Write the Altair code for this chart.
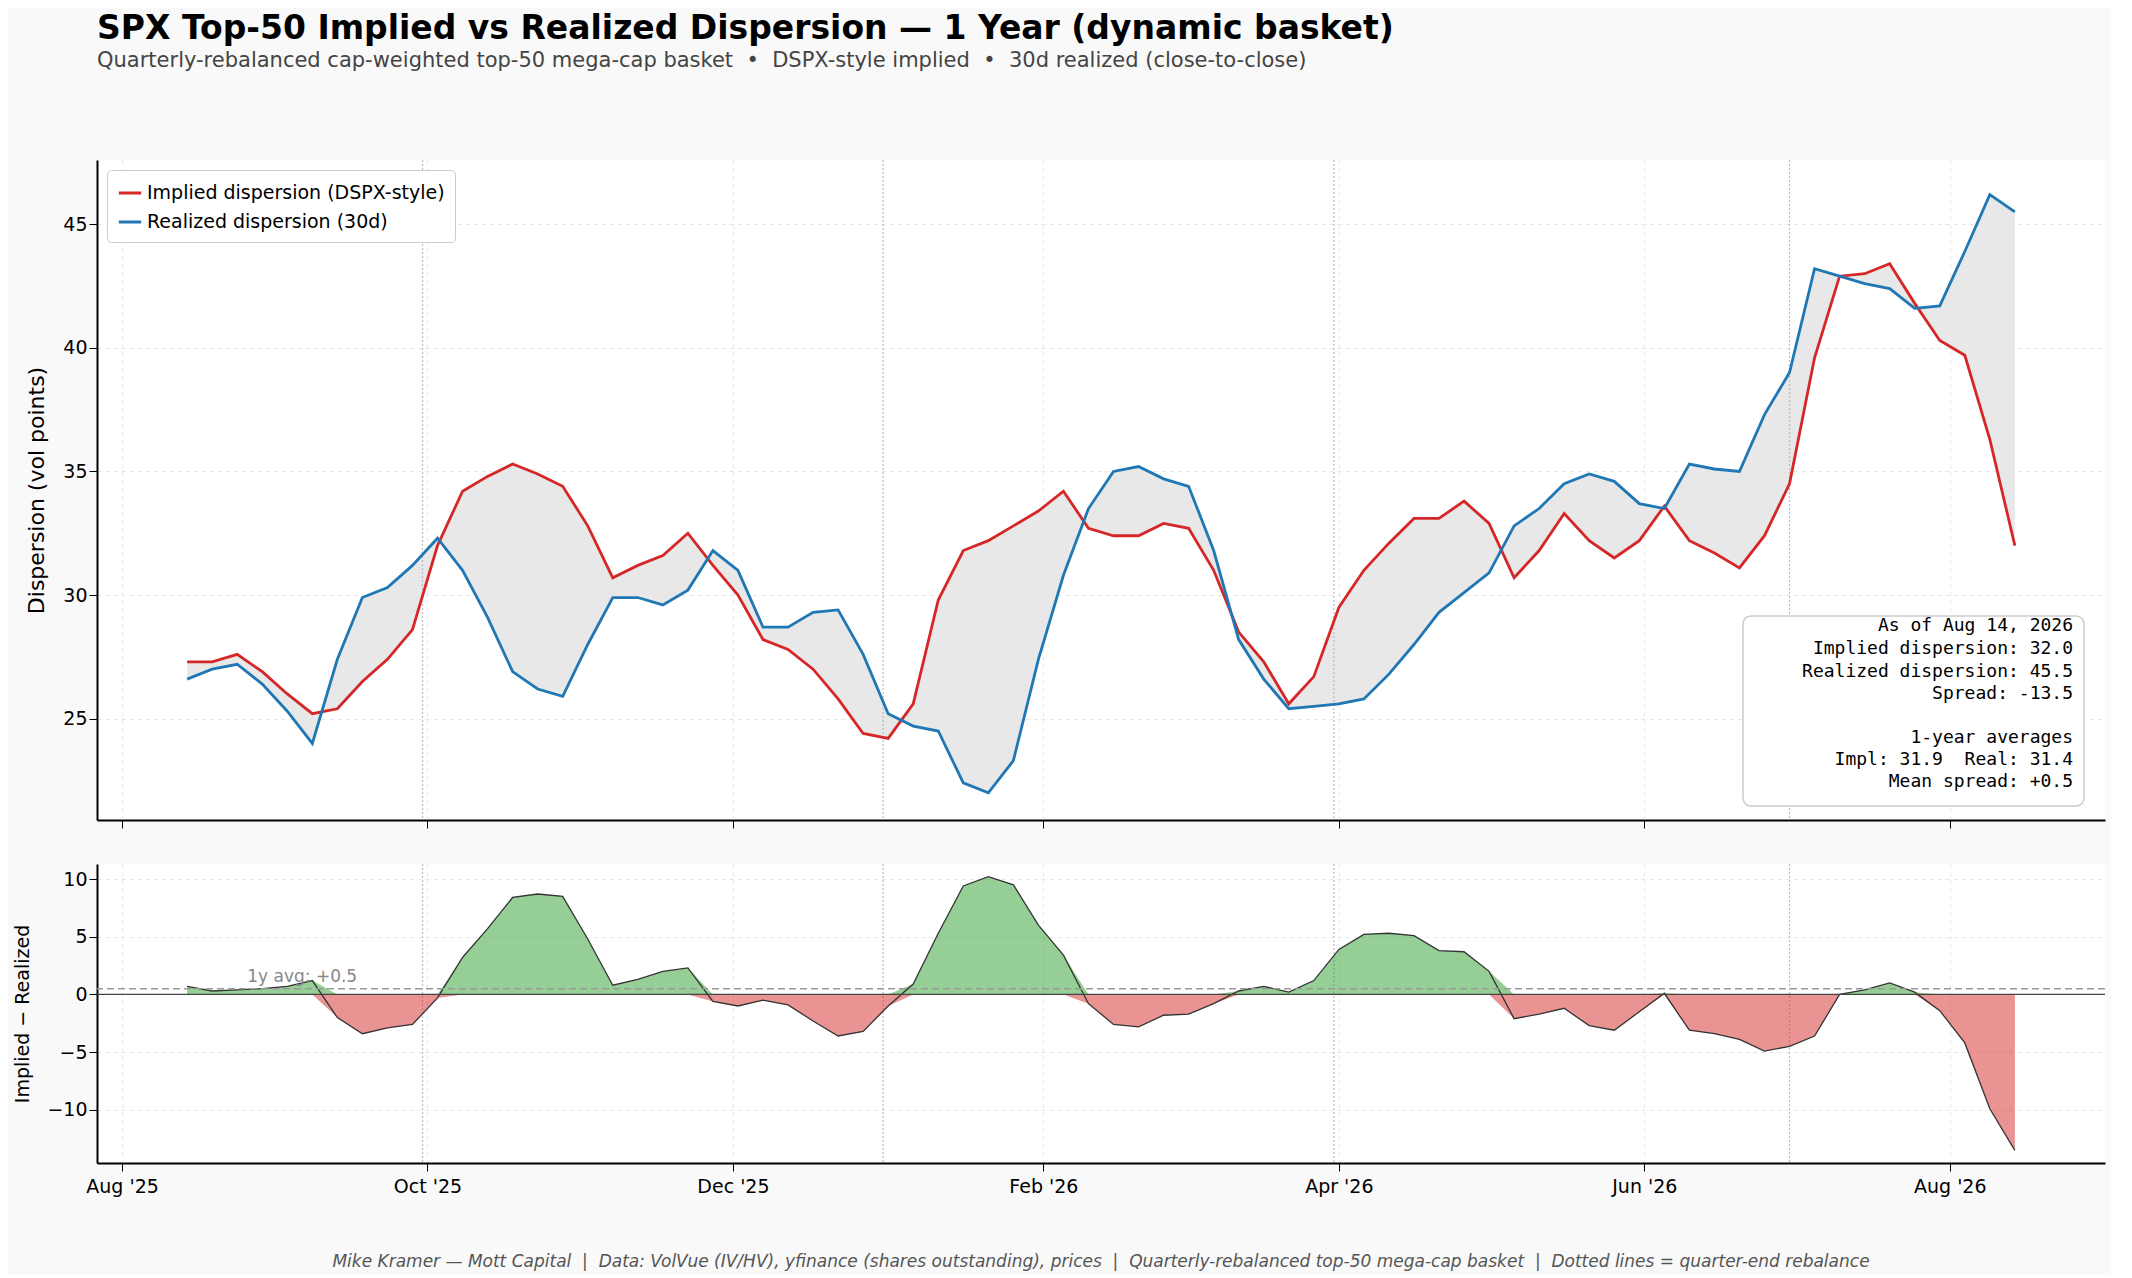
import altair as alt
import pandas as pd

# Readings every 5 days, Aug 14 2025 -> Aug 14 2026
implied = [27.3, 27.3, 27.6, 26.9, 26.0, 25.2, 25.4, 26.5, 27.4, 28.6,
           32.0, 34.2, 34.8, 35.3, 34.9, 34.4, 32.8, 30.7, 31.2, 31.6,
           32.5, 31.2, 30.0, 28.2, 27.8, 27.0, 25.8, 24.4, 24.2, 25.6,
           29.8, 31.8, 32.2, 32.8, 33.4, 34.2, 32.7, 32.4, 32.4, 32.9,
           32.7, 31.0, 28.5, 27.3, 25.6, 26.7, 29.5, 31.0, 32.1, 33.1,
           33.1, 33.8, 32.9, 30.7, 31.8, 33.3, 32.2, 31.5, 32.2, 33.6,
           32.2, 31.7, 31.1, 32.4, 34.5, 39.6, 42.9, 43.0, 43.4, 41.8,
           40.3, 39.7, 36.3, 32.0]
realized = [26.6, 27.0, 27.2, 26.4, 25.3, 24.0, 27.4, 29.9, 30.3, 31.2,
            32.3, 31.0, 29.1, 26.9, 26.2, 25.9, 28.0, 29.9, 29.9, 29.6,
            30.2, 31.8, 31.0, 28.7, 28.7, 29.3, 29.4, 27.6, 25.2, 24.7,
            24.5, 22.4, 22.0, 23.3, 27.4, 30.8, 33.5, 35.0, 35.2, 34.7,
            34.4, 31.8, 28.2, 26.6, 25.4, 25.5, 25.6, 25.8, 26.8, 28.0,
            29.3, 30.1, 30.9, 32.8, 33.5, 34.5, 34.9, 34.6, 33.7, 33.5,
            35.3, 35.1, 35.0, 37.3, 39.0, 43.2, 42.9, 42.6, 42.4, 41.6,
            41.7, 43.9, 46.2, 45.5]
dates = pd.date_range("2025-08-14", periods=len(implied), freq="5D")

rebalance_dates = ["2025-09-30", "2025-12-31", "2026-03-31", "2026-06-30"]
tick_dates = ["2025-08-01", "2025-10-01", "2025-12-01", "2026-02-01",
              "2026-04-01", "2026-06-01", "2026-08-01"]
mean_spread = 0.5

IMPL_LABEL = "Implied dispersion (DSPX-style)"
REAL_LABEL = "Realized dispersion (30d)"
SP = "\u00a0"  # keep double spaces in svg text

df = pd.DataFrame({"date": dates, "implied": implied, "realized": realized})
reb_df = pd.DataFrame({"date": pd.to_datetime(rebalance_dates)})

W = 2008
x_scale = alt.Scale(domain=["2025-07-27", "2026-09-01"])
tick_vals = [alt.DateTime(year=int(d[:4]), month=int(d[5:7]), date=1) for d in tick_dates]
view_bg = alt.ViewBackground(fill="white", strokeWidth=0)

def x_enc(labels=True):
    return alt.X("date:T", scale=x_scale, title=None,
                 axis=alt.Axis(values=tick_vals, format="%b '%y", labels=labels,
                               labelFontSize=19, tickSize=8, tickColor="black",
                               domainColor="black", domainWidth=2,
                               gridDash=[4, 4], gridColor="#e6e6e6", labelPadding=6))

base = alt.Chart(df)

# top panel
band = base.mark_area(color="#e8e8e8").encode(
    x=x_enc(False),
    y=alt.Y("implied:Q"),
    y2="realized:Q",
)
reb_top = alt.Chart(reb_df).mark_rule(color="#bbbbbb", strokeDash=[2, 2], strokeWidth=1.2).encode(x="date:T")
lines = base.transform_fold(["implied", "realized"], as_=["series", "value"]).transform_calculate(
    label=f"datum.series == 'implied' ? '{IMPL_LABEL}' : '{REAL_LABEL}'"
).mark_line(strokeWidth=2.8).encode(
    x=x_enc(False),
    y=alt.Y("value:Q", scale=alt.Scale(domain=[20.9, 47.6], nice=False, zero=False),
            title="Dispersion (vol points)",
            axis=alt.Axis(values=[25, 30, 35, 40, 45], labelFontSize=19, titleFontSize=22,
                          titleFontWeight="normal", tickSize=8, tickColor="black",
                          domainColor="black", domainWidth=2, gridDash=[4, 4],
                          gridColor="#e6e6e6", titlePadding=14)),
    color=alt.Color("label:N",
                    scale=alt.Scale(domain=[IMPL_LABEL, REAL_LABEL], range=["#d62728", "#1f77b4"]),
                    legend=alt.Legend(title=None, orient="top-left", labelFontSize=19, labelLimit=600,
                                      symbolType="stroke", symbolStrokeWidth=3, symbolSize=500,
                                      strokeColor="#cccccc", fillColor="white", padding=10,
                                      cornerRadius=4, offset=10, rowPadding=6)),
)

box = alt.Chart(df).mark_rect(fill="white", stroke="#cccccc", strokeWidth=1.5, cornerRadius=8).encode(
    x=alt.value(1646), x2=alt.value(1987), y=alt.value(456), y2=alt.value(646)
).transform_aggregate(n="count()")
info_lines = ["As of Aug 14, 2026", "Implied dispersion: 32.0", "Realized dispersion: 45.5",
              "Spread: -13.5", "", "1-year averages", f"Impl: 31.9{SP}{SP}Real: 31.4", "Mean spread: +0.5"]
info_y = [471, 494, 517, 539, 561, 583, 605, 627]
info_df = pd.DataFrame({"t": info_lines, "py": info_y})
info = alt.Chart(info_df).mark_text(align="right", baseline="alphabetic", font="DejaVu Sans Mono",
                                   fontSize=18, color="black").encode(
    x=alt.value(1976), y=alt.Y("py:Q", scale=None), text="t:N")

top = alt.layer(band, reb_top, lines, box, info).properties(width=W, height=660, view=view_bg)

# bottom panel
spread = base.transform_calculate(
    diff="datum.implied - datum.realized",
    pos="max(datum.implied - datum.realized, 0)",
    neg="min(datum.implied - datum.realized, 0)",
)
ydiff = alt.Y("pos:Q", scale=alt.Scale(domain=[-14.6, 11.3], nice=False), title="Implied − Realized",
              axis=alt.Axis(values=[-10, -5, 0, 5, 10], labelFontSize=19, titleFontSize=19,
                            titleFontWeight="normal", tickSize=8, tickColor="black",
                            domainColor="black", domainWidth=2, gridDash=[4, 4],
                            gridColor="#e6e6e6", titlePadding=14))
pos_area = spread.mark_area(color="#2ca02c", opacity=0.5).encode(x=x_enc(), y=ydiff, y2=alt.datum(0))
neg_area = spread.mark_area(color="#d62728", opacity=0.5).encode(x=x_enc(), y="neg:Q", y2=alt.datum(0))
diff_line = spread.mark_line(color="#333333", strokeWidth=1.3).encode(x=x_enc(), y="diff:Q")
reb_bot = alt.Chart(reb_df).mark_rule(color="#bbbbbb", strokeDash=[2, 2], strokeWidth=1.2).encode(x="date:T")
zero = alt.Chart(pd.DataFrame({"v": [0]})).mark_rule(color="#444444", strokeWidth=1.2).encode(y="v:Q")
avg = alt.Chart(pd.DataFrame({"v": [mean_spread]})).mark_rule(
    color="#999999", strokeDash=[7, 4], strokeWidth=1.5).encode(y="v:Q")
avg_txt = alt.Chart(pd.DataFrame({"d": ["2025-08-26"], "v": [mean_spread], "t": ["1y avg: +0.5"]})).mark_text(
    align="left", baseline="bottom", dy=-3, fontSize=17, color="#888888").encode(
    x="d:T", y="v:Q", text="t:N")

sep = f"{SP}{SP}|{SP}{SP}"
bottom = alt.layer(reb_bot, pos_area, neg_area, diff_line, zero, avg, avg_txt).properties(
    width=W, height=299, view=view_bg,
    title=alt.TitleParams(
        f"Mike Kramer — Mott Capital{sep}Data: VolVue (IV/HV), yfinance (shares outstanding), prices{sep}"
        f"Quarterly-rebalanced top-50 mega-cap basket{sep}Dotted lines = quarter-end rebalance",
        orient="bottom", anchor="middle", fontSize=17, fontStyle="italic", fontWeight="normal",
        color="#555555", offset=58))

dot = f"{SP}{SP}•{SP}{SP}"
chart = alt.vconcat(top, bottom, spacing=34).properties(
    title=alt.TitleParams(
        "SPX Top-50 Implied vs Realized Dispersion — 1 Year (dynamic basket)",
        subtitle=f"Quarterly-rebalanced cap-weighted top-50 mega-cap basket{dot}DSPX-style implied{dot}30d realized (close-to-close)",
        anchor="start", frame="group", fontSize=33, fontWeight="bold", subtitleFontSize=21,
        subtitleColor="#444444", offset=88, subtitlePadding=4),
    background="#f9f9f9",
).configure_view(fill="white", strokeWidth=0).configure(font="DejaVu Sans")

chart.save("out.html", embed_options={"renderer": "svg", "actions": False})
